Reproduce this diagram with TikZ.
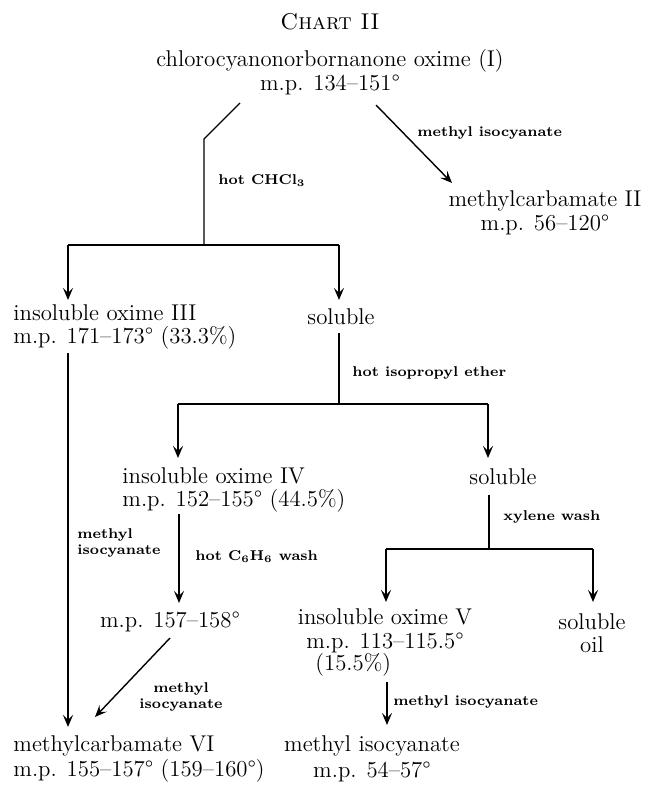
\documentclass[tikz,border=0pt]{standalone}
\usepackage{fontspec}
\usetikzlibrary{arrows.meta}
\newcommand{\mainfs}{\fontsize{11.4}{11.8}\selectfont}
\newcommand{\labfs}{\fontsize{7.1}{7.6}\selectfont\bfseries}
\begin{document}
\begin{tikzpicture}[x=0.5pt,y=-0.5pt,
  txt/.style={font=\mainfs, align=center, inner sep=0pt},
  txtl/.style={font=\mainfs, align=left, anchor=west, inner sep=0pt},
  lab/.style={font=\labfs, align=left, anchor=west, inner sep=0pt},
  labc/.style={font=\labfs, align=center, inner sep=0pt},
  ln/.style={line width=0.7pt},
  arr/.style={line width=0.7pt, -{Stealth[length=6pt,width=5pt,inset=2.5pt]}}]
\useasboundingbox (0,0) rectangle (650,786);

% nodes
\node[txt] (title) at (330,22) {\textsc{Chart II}};
\node[txt] (I) at (330,72) {chlorocyanonorbornanone oxime (I)\\m.p. 134--151°};
\node[txt] (II) at (545,213) {methylcarbamate II\\m.p. 56--120°};
\node[txtl] (III) at (13,327) {insoluble oxime III\\m.p. 171--173° (33.3\%)};
\node[txt] (sol1) at (341,317) {soluble};
\node[txtl] (IV) at (122,490) {insoluble oxime IV\\m.p. 152--155° (44.5\%)};
\node[txt] (sol2) at (503,477) {soluble};
\node[txt] (mp157) at (170,622) {m.p. 157--158°};
\node[txt] (V) at (385,631) {insoluble oxime V\\m.p. 113--115.5°};
\node[txtl] (Vp) at (315,665) {(15.5\%)};
\node[txt] (oil) at (592,633) {soluble\\oil};
\node[txtl] (VI) at (13,759) {methylcarbamate VI\\[1pt]m.p. 155--157° (159--160°)};
\node[txt] (MI) at (372,759) {methyl isocyanate\\[1pt]m.p. 54--57°};

% labels
\node[lab] (l1) at (218,181) {hot CHCl\textsubscript{3}};
\node[lab] (l2) at (417,133) {methyl isocyanate};
\node[lab] (l3) at (352,373) {hot isopropyl ether};
\node[lab] (l4) at (77,543) {methyl\\isocyanate};
\node[lab] (l5) at (195,557) {hot C\textsubscript{6}H\textsubscript{6} wash};
\node[lab] (l6) at (503,517) {xylene wash};
\node[labc] (l7) at (181,697) {methyl\\isocyanate};
\node[lab] (l8) at (393,702) {methyl isocyanate};

% coordinates
\coordinate (a0) at (240,103);
\coordinate (a1) at (204,139);
\coordinate (a2) at (204,245);
\coordinate (a3) at (68,245);
\coordinate (a4) at (339,245);
\coordinate (t3) at (68,300);
\coordinate (ts1) at (339,300);
\coordinate (b0) at (376,105);
\coordinate (b1) at (452,183);
\coordinate (c0) at (68,353);
\coordinate (c1) at (68,727);
\coordinate (d0) at (339,333);
\coordinate (d1) at (339,404);
\coordinate (d2) at (178,404);
\coordinate (d3) at (488,404);
\coordinate (t4) at (178,458);
\coordinate (ts2) at (488,458);
\coordinate (e0) at (179,514);
\coordinate (e1) at (179,603);
\coordinate (f0) at (489,495);
\coordinate (f1) at (489,549);
\coordinate (f2) at (386,549);
\coordinate (f3) at (593,549);
\coordinate (t5) at (386,602);
\coordinate (to) at (593,602);
\coordinate (g0) at (170,638);
\coordinate (g1) at (95,717);
\coordinate (h0) at (387,682);
\coordinate (h1) at (387,725);

% connectors
\draw[ln] (a0) -- (a1) -- (a2);
\draw[ln] (a3) -- (a4);
\draw[arr] (a3) -- (t3);
\draw[arr] (a4) -- (ts1);
\draw[arr] (b0) -- (b1);
\draw[arr] (c0) -- (c1);
\draw[ln] (d0) -- (d1);
\draw[ln] (d2) -- (d3);
\draw[arr] (d2) -- (t4);
\draw[arr] (d3) -- (ts2);
\draw[arr] (e0) -- (e1);
\draw[ln] (f0) -- (f1);
\draw[ln] (f2) -- (f3);
\draw[arr] (f2) -- (t5);
\draw[arr] (f3) -- (to);
\draw[arr] (g0) -- (g1);
\draw[arr] (h0) -- (h1);
\end{tikzpicture}
\end{document}
